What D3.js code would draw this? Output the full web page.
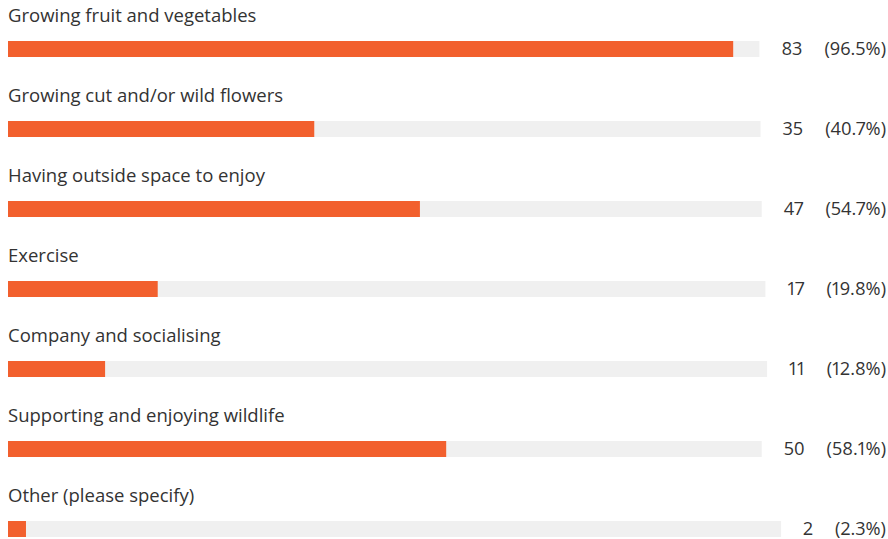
<!DOCTYPE html>
<html>
<head>
<meta charset="utf-8">
<script src="https://cdn.jsdelivr.net/npm/d3@7"></script>
<style>
  html, body { margin: 0; padding: 0; background: #fff; }
  svg { display: block; }
  text { font-variant-numeric: proportional-nums; font-feature-settings: "pnum" 1; }
</style>
</head>
<body>
<svg id="chart" width="888" height="539"></svg>
<script>
const categories = [
  "Growing fruit and vegetables",
  "Growing cut and/or wild flowers",
  "Having outside space to enjoy",
  "Exercise",
  "Company and socialising",
  "Supporting and enjoying wildlife",
  "Other (please specify)"
];
const counts = [83, 35, 47, 17, 11, 50, 2];
const total = 86;

const W = 888, H = 539;
const left = 8, rightEdge = 886, gap = 22;
const rowH = 80, barTop = 41, barH = 16;
const font = "'Open Sans', sans-serif";
const fs = 18.5, fsNum = 18.2;
const textColor = "#333333";

const svg = d3.select("#chart");
const rows = d3.scaleBand().domain(d3.range(categories.length)).range([0, rowH * categories.length]).paddingInner(0);

const g = svg.selectAll("g.row").data(categories.map((c, i) => ({ c, v: counts[i], i })))
  .join("g").attr("class", "row")
  .attr("transform", d => `translate(0,${rows(d.i)})`);

g.append("text")
  .attr("x", left).attr("y", 22)
  .attr("font-family", font).attr("font-size", fs)
  .attr("fill", textColor)
  .text(d => d.c);

g.each(function(d) {
  const row = d3.select(this);
  const pct = "(" + (d.v / total * 100).toFixed(1) + "%)";
  const ty = barTop + barH / 2 - 1.5;
  const pctText = row.append("text")
    .attr("x", rightEdge).attr("y", ty)
    .attr("text-anchor", "end").attr("dominant-baseline", "central")
    .attr("font-family", font).attr("font-size", fsNum).attr("fill", textColor)
    .text(pct);
  const pw = pctText.node().getComputedTextLength();
  const cntText = row.append("text")
    .attr("x", rightEdge - pw - gap).attr("y", ty)
    .attr("text-anchor", "end").attr("dominant-baseline", "central")
    .attr("font-family", font).attr("font-size", fsNum).attr("fill", textColor)
    .text(d.v);
  const cw = cntText.node().getComputedTextLength();
  const trackEnd = rightEdge - pw - gap - cw - gap;
  const x = d3.scaleLinear().domain([0, total]).range([left, trackEnd]);
  row.append("rect")
    .attr("x", x(0)).attr("y", barTop)
    .attr("width", x(total) - x(0)).attr("height", barH)
    .attr("fill", "#f0f0f0");
  row.append("rect")
    .attr("x", x(0)).attr("y", barTop)
    .attr("width", x(d.v) - x(0)).attr("height", barH)
    .attr("fill", "#f2602e");
});
</script>
</body>
</html>
